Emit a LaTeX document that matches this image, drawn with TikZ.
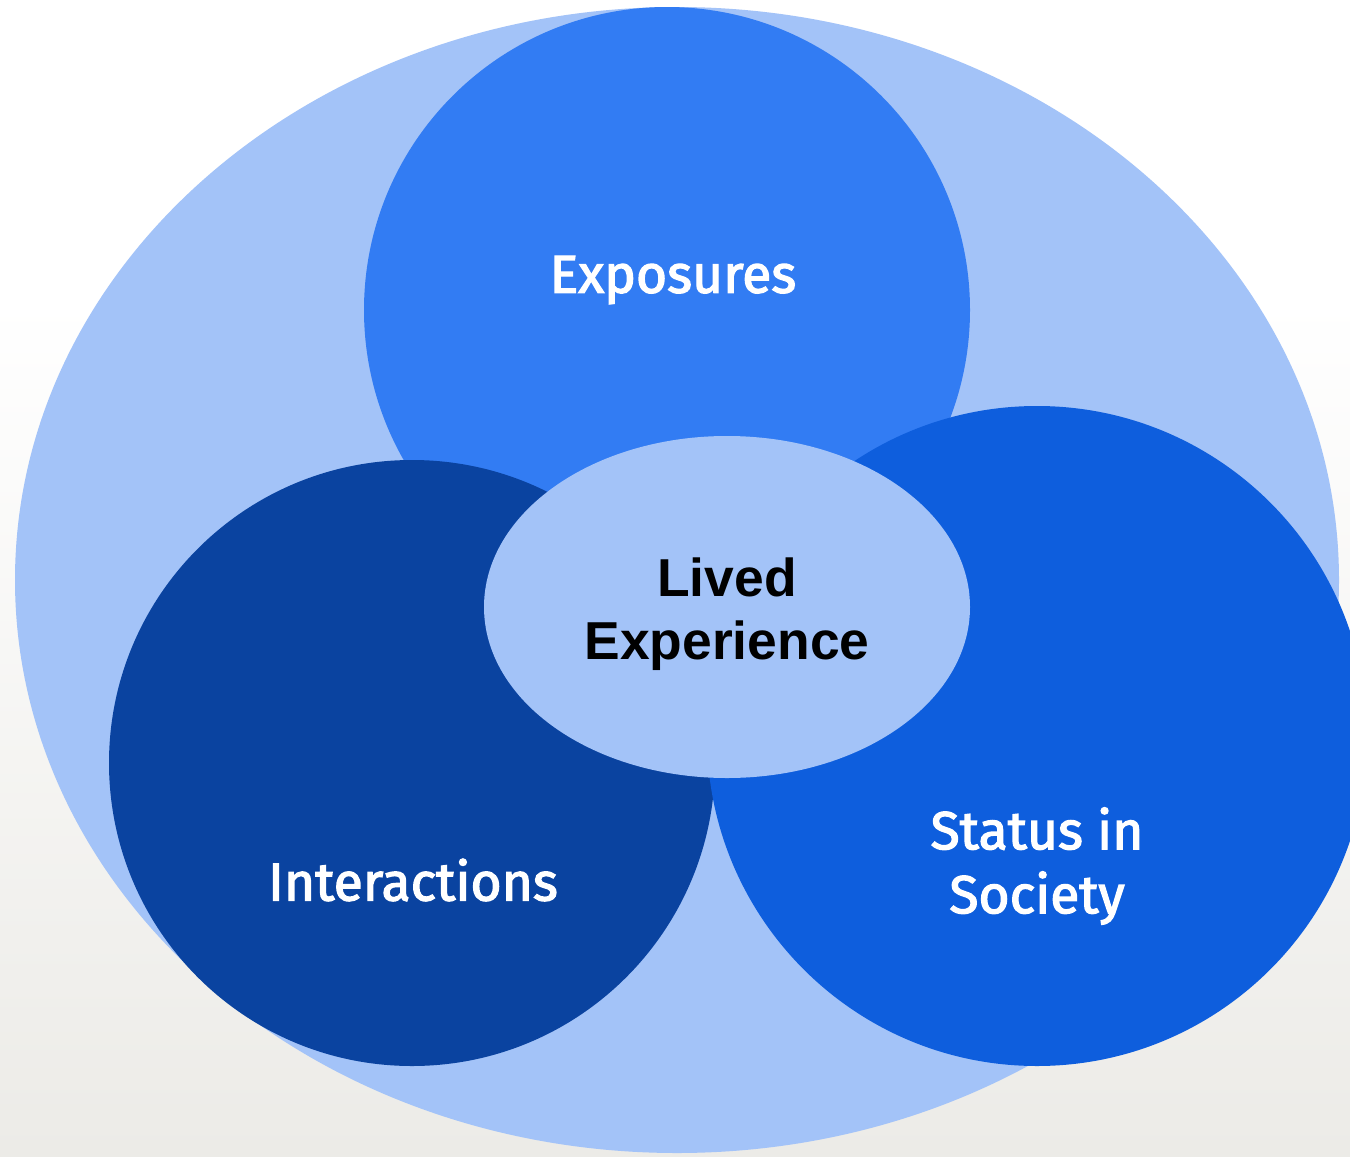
\documentclass[tikz,border=0pt]{standalone}
\usepackage{fontspec}
\setmainfont{Liberation Sans}
\newfontfamily\labelfont{Fira Sans}[FakeBold=2.4]
\usepackage{xcolor}
\usetikzlibrary{positioning, shapes.geometric}

\definecolor{paper}{HTML}{ECEBE7}
\definecolor{outer}{HTML}{A3C3F8}
\definecolor{exposure}{HTML}{327CF3}
\definecolor{interact}{HTML}{0A43A0}
\definecolor{status}{HTML}{0E5EDD}

\begin{document}
\begin{tikzpicture}[
        x=0.5pt, y=-0.5pt,
        sphere/.style={text=white, align=center, font=\labelfont\fontsize{26.7}{32}\selectfont},
        core/.style={text=black, align=center, font=\bfseries\fontsize{26.7}{31.5}\selectfont}
    ]
        \useasboundingbox (0,0) rectangle (1350,1157);
        % backdrop
        \fill[white] (0,0) rectangle (1350,300);
        \shade[top color=white, bottom color=paper] (0,299) rectangle (1350,1157);

        % outer field and the three spheres
        \fill[outer] (677,580) ellipse [x radius=662, y radius=573];
        \fill[exposure] (667,310) circle [radius=303];
        \fill[interact] (412,763) circle [radius=303];
        \fill[status] (1037,736) circle [radius=330];
        \node[ellipse, fill=outer, minimum width=243pt, minimum height=171pt, inner sep=0pt] (hub) at (727,607) {};

        \node[sphere] (exp) at (673,280) {Exposures};
        \node[sphere] (int) at (413,880) {Interactions};
        \node[sphere] (soc) at (1037,866) {Status in\\Society};
        \node[core] (lived) at (727,614) {Lived\\Experience};
    \end{tikzpicture}
\end{document}
